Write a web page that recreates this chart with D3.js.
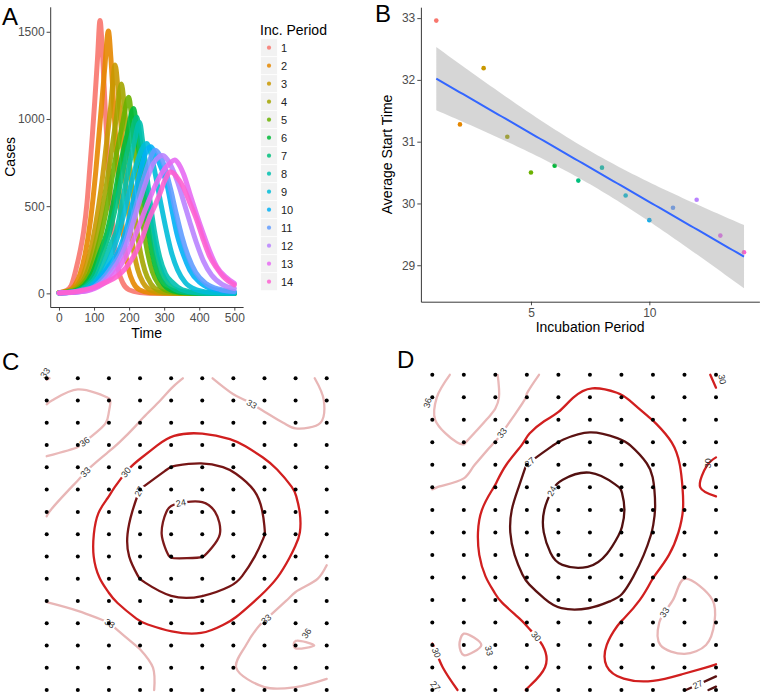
<!DOCTYPE html>
<html>
<head>
<meta charset="utf-8">
<script src="https://cdn.jsdelivr.net/npm/d3@7"></script>
<style>
  body { margin: 0; background: #fff; }
  svg text { font-family: "Liberation Sans", Arial, Helvetica, sans-serif; }
</style>
</head>
<body>
<svg id="fig" width="762" height="697"></svg>
<script>
// ---------------- data ----------------
const incPeriods = [1, 2, 3, 4, 5, 6, 7, 8, 9, 10, 11, 12, 13, 14];
const periodColors = ["#F8766D", "#E58700", "#C99800", "#A3A500", "#6BB100", "#00BA38", "#00BF7D",
                      "#00C0AF", "#00BCD8", "#00B0F6", "#619CFF", "#B983FF", "#E76BF3", "#FD61D1"];

const timeTicks = [0, 100, 200, 300, 400, 500];
const caseTicks = [0, 500, 1000, 1500];

// panel A: cases over time, one list of [time, cases] per incubation period
const caseCurves = [
  [[0,3],[20,15],[35,45],[50,150],[60,240],[70,350],[80,520],[88,720],[95,900],[102,1100],[110,1350],[117,1565],[124,1380],[132,1050],[140,760],[150,470],[160,260],[170,130],[182,60],[200,20],[230,5],[280,0],[500,0]],
  [[0,3],[25,14],[45,45],[60,110],[75,230],[90,420],[105,700],[118,1000],[130,1280],[141,1505],[148,1350],[156,1080],[165,780],[175,500],[186,280],[198,140],[212,60],[230,20],[260,4],[320,0],[500,0]],
  [[0,3],[30,14],[52,45],[70,110],[88,230],[105,400],[120,600],[135,850],[148,1080],[160,1310],[168,1180],[177,960],[187,710],[198,470],[210,280],[224,140],[240,60],[262,18],[295,3],[360,0],[500,0]],
  [[0,3],[35,14],[58,45],[78,110],[97,230],[115,390],[132,580],[148,790],[163,1000],[178,1200],[186,1080],[195,880],[205,660],[217,440],[230,260],[245,130],[262,55],[285,16],[320,3],[380,0],[500,0]],
  [[0,3],[40,14],[65,45],[86,110],[106,230],[125,380],[143,560],[160,760],[180,960],[199,1125],[207,1010],[216,830],[226,620],[238,420],[251,250],[266,125],[284,52],[308,16],[345,3],[400,0],[500,0]],
  [[0,2],[45,14],[72,45],[94,110],[116,230],[136,344],[155,520],[173,720],[193,900],[213,1060],[221,950],[230,780],[241,580],[253,390],[266,230],[281,115],[300,48],[325,15],[365,3],[420,0],[500,0]],
  [[0,2],[48,13],[76,42],[99,100],[121,210],[143,340],[162,500],[181,690],[202,870],[222,1010],[230,910],[240,750],[251,560],[264,380],[278,225],[294,115],[314,48],[340,15],[380,3],[440,0],[500,0]],
  [[0,2],[52,13],[82,42],[108,100],[132,200],[150,290],[164,360],[180,520],[197,700],[214,860],[230,980],[238,880],[248,720],[259,540],[272,360],[287,210],[304,110],[325,60],[352,20],[395,3],[450,0],[500,0]],
  [[0,2],[55,12],[88,40],[115,95],[140,180],[162,290],[182,430],[200,580],[218,720],[235,820],[250,860],[262,800],[275,680],[290,520],[305,370],[320,240],[338,135],[360,62],[390,22],[430,6],[480,1],[500,0]],
  [[0,2],[60,12],[100,50],[140,150],[174,260],[195,390],[212,535],[228,670],[240,764],[252,825],[262,840],[272,810],[285,750],[297,690],[307,631],[322,480],[336,344],[355,220],[373,134],[400,65],[430,29],[465,14],[500,8]],
  [[0,2],[62,11],[105,45],[145,135],[180,250],[202,380],[222,520],[240,650],[256,750],[275,820],[288,790],[302,720],[318,600],[334,460],[350,330],[368,215],[390,120],[420,55],[460,22],[500,10]],
  [[0,2],[62,10],[108,40],[150,120],[193,287],[212,410],[231,535],[250,650],[269,745],[283,780],[295,790],[308,770],[322,720],[338,640],[355,530],[373,410],[392,290],[412,185],[435,105],[465,52],[500,28]],
  [[0,2],[65,10],[112,38],[158,110],[200,250],[225,370],[250,500],[275,620],[300,710],[318,750],[330,765],[342,740],[356,680],[373,573],[392,455],[411,344],[430,240],[450,153],[475,95],[500,57]],
  [[0,2],[40,8],[69,19],[100,35],[130,60],[164,95],[190,145],[212,210],[236,310],[259,439],[275,510],[288,573],[300,640],[307,669],[316,697],[326,690],[335,670],[354,611],[373,520],[393,420],[411,310],[430,210],[450,145],[469,95],[485,68],[500,48]]
];

// panel B: average start time per incubation period
const avgStartTime = [32.96, 31.28, 32.19, 31.08, 30.50, 30.61, 30.37, 30.58, 30.13, 29.73, 29.93, 30.06, 29.48, 29.21];
const startTicks = [29, 30, 31, 32, 33];
const periodTicks = [5, 10];
const tCrit = 2.179; // t(0.975, df = 12)

// panels C and D: values on the 10 x 15 grid of sample points (rows top to bottom)
const levels = [24, 27, 30, 33, 36];
const gridC = [
  [32.8, 35.0, 35.0, 34.5, 33.3, 32.5, 34.0, 34.6, 33.8, 32.5],
  [35.8, 37.0, 36.1, 33.8, 32.6, 31.8, 32.6, 33.6, 34.0, 32.9],
  [37.0, 36.9, 35.9, 32.9, 31.1, 30.9, 31.5, 32.4, 33.4, 32.9],
  [36.6, 36.2, 33.6, 31.3, 29.0, 28.7, 29.5, 31.0, 31.8, 32.2],
  [35.4, 33.9, 31.5, 29.2, 26.9, 26.4, 27.2, 29.3, 31.2, 32.6],
  [34.5, 32.4, 30.4, 26.95, 25.1, 24.9, 26.1, 27.3, 30.1, 32.5],
  [33.1, 31.3, 29.2, 26.2, 23.6, 23.3, 25.0, 27.1, 29.6, 32.1],
  [32.6, 31.47, 28.53, 25.83, 23.2, 23.0, 24.77, 26.95, 29.56, 32.2],
  [32.0, 30.9, 29.0, 25.6, 23.9, 23.95, 25.2, 27.7, 30.44, 32.6],
  [32.4, 31.0, 29.5, 26.95, 25.6, 25.8, 26.4, 28.9, 31.5, 33.6],
  [32.95, 32.6, 30.3, 28.5, 27.1, 27.2, 28.3, 30.75, 34.0, 34.5],
  [33.9, 33.5, 33.05, 30.1, 29.3, 29.0, 30.3, 33.3, 35.4, 35.3],
  [34.5, 34.3, 33.6, 32.9, 31.0, 30.8, 32.6, 33.6, 36.15, 35.9],
  [35.0, 34.8, 34.2, 33.5, 32.3, 32.0, 32.9, 34.0, 35.0, 34.0],
  [35.2, 35.0, 34.5, 33.5, 32.4, 32.2, 32.5, 32.85, 32.7, 32.0]
];
const gridD = [
  [35.0, 36.8, 36.2, 33.5, 32.2, 30.8, 31.0, 31.5, 30.9, 29.8],
  [35.8, 37.2, 36.4, 32.9, 30.8, 29.0, 29.8, 31.2, 31.6, 30.15],
  [35.9, 37.0, 35.6, 30.4, 29.7, 27.6, 28.4, 30.05, 31.4, 31.0],
  [35.3, 36.2, 32.9, 29.8, 26.9, 26.0, 26.8, 27.75, 31.1, 30.3],
  [34.6, 33.9, 31.3, 26.9, 25.0, 24.1, 25.2, 27.2, 30.4, 29.85],
  [33.1, 32.4, 29.86, 26.0, 23.6, 23.0, 24.05, 26.85, 30.2, 29.8],
  [32.0, 31.4, 28.7, 25.2, 22.8, 22.2, 23.55, 26.7, 30.05, 30.3],
  [32.0, 31.2, 28.4, 25.25, 22.7, 22.5, 24.06, 27.1, 30.6, 31.6],
  [32.3, 31.2, 28.6, 25.85, 23.4, 23.2, 24.6, 27.9, 31.7, 32.3],
  [32.5, 31.0, 29.5, 26.7, 24.6, 24.4, 25.2, 29.97, 32.95, 32.9],
  [32.4, 31.4, 30.2, 28.0, 26.3, 26.2, 27.3, 31.6, 33.8, 32.9],
  [31.5, 32.5, 31.0, 29.91, 27.9, 28.0, 30.13, 32.5, 35.0, 32.9],
  [29.9, 33.5, 32.6, 30.4, 29.7, 29.6, 30.47, 32.6, 34.3, 32.4],
  [28.8, 32.4, 32.2, 30.7, 29.73, 29.7, 30.4, 31.3, 31.0, 29.6],
  [26.0, 31.0, 31.3, 29.95, 29.0, 28.7, 29.7, 29.4, 27.2, 23.0]
];
// contour label anchors in grid units; with an angle the label is set free, otherwise snapped onto its line
const labelsC = [
  {level: 33, at: [-0.05, -0.25], angle: -55},
  {level: 36, at: [1.1, 2.65]},
  {level: 33, at: [1.23, 4.18]},
  {level: 30, at: [2.36, 4.03]},
  {level: 27, at: [2.84, 5.0]},
  {level: 24, at: [4.3, 5.5]},
  {level: 33, at: [6.6, 1.12]},
  {level: 33, at: [2.04, 11.0]},
  {level: 33, at: [6.97, 10.69]},
  {level: 36, at: [8.35, 11.45], angle: -55}
];
const labelsD = [
  {level: 36, at: [-0.15, 1.25], angle: -75},
  {level: 33, at: [2.09, 2.44]},
  {level: 27, at: [3.04, 3.8]},
  {level: 24, at: [3.52, 4.96]},
  {level: 30, at: [9.2, 0.2], angle: 80},
  {level: 30, at: [8.75, 3.93], angle: -90},
  {level: 30, at: [3.36, 11.55]},
  {level: 33, at: [1.8, 12.25], angle: 75},
  {level: 30, at: [0.2, 12.3]},
  {level: 27, at: [0.2, 13.7]},
  {level: 33, at: [7.22, 10.43]},
  {level: 27, at: [8.38, 13.63]}
];

// ---------------- helpers ----------------
const svg = d3.select("#fig");

function styleAxis(g) {
  g.select("path.domain").attr("stroke", "#222").attr("stroke-width", 0.9);
  g.selectAll(".tick line").attr("stroke", "#333").attr("stroke-width", 0.9);
  g.selectAll(".tick text").attr("fill", "#4d4d4d").attr("font-size", 12);
}

function expand(ext, f) {
  const pad = (ext[1] - ext[0]) * f;
  return [ext[0] - pad, ext[1] + pad];
}

function panelLetter(txt, x, y) {
  svg.append("text").attr("x", x).attr("y", y).attr("font-size", 24).attr("fill", "#000").text(txt);
}

const plainNum = d => String(d);

// ---------------- panel A ----------------
const allCases = caseCurves.flat();
const xA = d3.scaleLinear().domain(expand(d3.extent(allCases, d => d[0]), 0.05)).range([50.2, 243.1]);
const yA = d3.scaleLinear().domain(expand([0, d3.max(allCases, d => d[1])], 0.05)).range([307, 6.8]);

const gA = svg.append("g");
const lineA = d3.line().x(d => xA(d[0])).y(d => yA(d[1])).curve(d3.curveMonotoneX);
caseCurves.forEach((curve, k) => {
  gA.append("path")
    .attr("d", lineA(curve))
    .attr("fill", "none")
    .attr("stroke", periodColors[k])
    .attr("stroke-width", 5)
    .attr("stroke-opacity", 0.9)
    .attr("stroke-linecap", "round")
    .attr("stroke-linejoin", "round");
});

gA.append("g").attr("transform", `translate(0,${yA.range()[0]})`)
  .call(d3.axisBottom(xA).tickValues(timeTicks).tickFormat(plainNum).tickSize(3.6).tickSizeOuter(0).tickPadding(3))
  .call(styleAxis);
gA.append("g").attr("transform", `translate(${xA.range()[0]},0)`)
  .call(d3.axisLeft(yA).tickValues(caseTicks).tickFormat(plainNum).tickSize(3.6).tickSizeOuter(0).tickPadding(2))
  .call(styleAxis);

gA.append("text").attr("x", (xA.range()[0] + xA.range()[1]) / 2).attr("y", 338)
  .attr("text-anchor", "middle").attr("font-size", 14).text("Time");
gA.append("text").attr("transform", `translate(15,${(yA.range()[0] + yA.range()[1]) / 2}) rotate(-90)`)
  .attr("text-anchor", "middle").attr("font-size", 14).text("Cases");

// legend
const leg = svg.append("g");
leg.append("text").attr("x", 260).attr("y", 35).attr("font-size", 14).text("Inc. Period");
incPeriods.forEach((p, k) => {
  const cy = 47.7 + 18 * k;
  leg.append("rect").attr("x", 260.5).attr("y", cy - 9).attr("width", 17).attr("height", 18)
    .attr("fill", "#f2f2f2").attr("stroke", "#fff").attr("stroke-width", 0.8);
  leg.append("circle").attr("cx", 269).attr("cy", cy).attr("r", 2.1).attr("fill", periodColors[k]).attr("fill-opacity", 0.85);
  leg.append("text").attr("x", 281).attr("y", cy + 4).attr("font-size", 11).attr("fill", "#222").text(p);
});

panelLetter("A", 2, 25);

// ---------------- panel B ----------------
const n = incPeriods.length;
const xbar = d3.mean(incPeriods), ybar = d3.mean(avgStartTime);
const sxx = d3.sum(incPeriods, x => (x - xbar) ** 2);
const sxy = d3.sum(incPeriods, (x, k) => (x - xbar) * (avgStartTime[k] - ybar));
const slope = sxy / sxx, icpt = ybar - slope * xbar;
const sse = d3.sum(incPeriods, (x, k) => (avgStartTime[k] - (icpt + slope * x)) ** 2);
const sRes = Math.sqrt(sse / (n - 2));
const fitX = d3.range(0, 81).map(k => 1 + (13 * k) / 80);
const fit = fitX.map(x => {
  const yh = icpt + slope * x;
  const se = sRes * Math.sqrt(1 / n + (x - xbar) ** 2 / sxx);
  return {x, y: yh, lo: yh - tCrit * se, hi: yh + tCrit * se};
});

const xB = d3.scaleLinear().domain(expand(d3.extent(incPeriods), 0.05)).range([420.9, 759.4]);
const yExt = [Math.min(d3.min(avgStartTime), d3.min(fit, d => d.lo)), Math.max(d3.max(avgStartTime), d3.max(fit, d => d.hi))];
const yB = d3.scaleLinear().domain(expand(yExt, 0.05)).range([301.7, 7.2]);

const gB = svg.append("g");
gB.selectAll("circle.pt").data(avgStartTime).join("circle")
  .attr("cx", (d, k) => xB(incPeriods[k])).attr("cy", d => yB(d)).attr("r", 2.3)
  .attr("fill", (d, k) => periodColors[k]);
gB.append("path")
  .attr("d", d3.area().x(d => xB(d.x)).y0(d => yB(d.lo)).y1(d => yB(d.hi))(fit))
  .attr("fill", "#999").attr("fill-opacity", 0.4);
gB.append("path")
  .attr("d", d3.line().x(d => xB(d.x)).y(d => yB(d.y))(fit))
  .attr("fill", "none").attr("stroke", "#3366FF").attr("stroke-width", 2);

gB.append("g").attr("transform", `translate(0,${yB.range()[0]})`)
  .call(d3.axisBottom(xB).tickValues(periodTicks).tickFormat(plainNum).tickSize(3.6).tickSizeOuter(0).tickPadding(3))
  .call(styleAxis);
gB.append("g").attr("transform", `translate(${xB.range()[0]},0)`)
  .call(d3.axisLeft(yB).tickValues(startTicks).tickFormat(plainNum).tickSize(3.6).tickSizeOuter(0).tickPadding(2))
  .call(styleAxis);
gB.append("text").attr("x", (xB.range()[0] + xB.range()[1]) / 2).attr("y", 332)
  .attr("text-anchor", "middle").attr("font-size", 14).text("Incubation Period");
gB.append("text").attr("transform", `translate(392,${(yB.range()[0] + yB.range()[1]) / 2}) rotate(-90)`)
  .attr("text-anchor", "middle").attr("font-size", 14).text("Average Start Time");

panelLetter("B", 375, 22);

// ---------------- panels C and D ----------------
// split d3 contour rings at the grid border so only the real iso-lines remain
function isoPieces(coords, nx, ny) {
  const eps = 1e-6;
  const onEdge = p => p[0] < eps || p[0] > nx - eps || p[1] < eps || p[1] > ny - eps;
  const pieces = [];
  coords.forEach(poly => poly.forEach(ring => {
    let pts = ring.slice();
    const a = pts[0], b = pts[pts.length - 1];
    if (a[0] === b[0] && a[1] === b[1]) pts = pts.slice(0, -1);
    const m = pts.length;
    const first = pts.findIndex(onEdge);
    if (first < 0) { pieces.push({pts, closed: true}); return; }
    let cur = [];
    for (let k = 1; k <= m; k++) {
      const p = pts[(first + k) % m];
      if (onEdge(p)) {
        if (cur.length > 1) pieces.push({pts: cur, closed: false});
        cur = [];
      } else cur.push(p);
    }
  }));
  return pieces;
}

function contourPanel(grid, box, colors, labels) {
  const ny = grid.length, nx = grid[0].length;
  const gx = d3.scaleLinear().domain([0, nx - 1]).range([box.x0, box.x1]);
  const gy = d3.scaleLinear().domain([0, ny - 1]).range([box.y0, box.y1]);
  const g = svg.append("g");
  // small loops keep catmull-rom so they do not shrink; longer lines get a basis spline for smoothness
  const mk = curve => d3.line().x(p => gx(p[0] - 0.5)).y(p => gy(p[1] - 0.5)).curve(curve);
  const openSmooth = mk(d3.curveBasis), closedSmooth = mk(d3.curveBasisClosed);
  const openTight = mk(d3.curveCatmullRom.alpha(0.5)), closedTight = mk(d3.curveCatmullRomClosed.alpha(0.5));
  const nodes = {};

  d3.contours().size([nx, ny]).thresholds(levels)(grid.flat()).forEach(c => {
    nodes[c.value] = [];
    isoPieces(c.coordinates, nx, ny).forEach(pc => {
      const small = pc.pts.length < 12;
      const gen = pc.closed ? (small ? closedTight : closedSmooth) : (small ? openTight : openSmooth);
      const path = g.append("path")
        .attr("d", gen(pc.pts))
        .attr("fill", "none")
        .attr("stroke", colors[c.value])
        .attr("stroke-width", 2.3)
        .attr("stroke-linecap", "round");
      nodes[c.value].push(path.node());
    });
  });

  labels.forEach(lb => {
    let x = gx(lb.at[0]), y = gy(lb.at[1]), ang = lb.angle;
    const snapped = ang === undefined;
    if (snapped) {
      let best = null;
      (nodes[lb.level] || []).forEach(node => {
        const len = node.getTotalLength();
        for (let s = 0; s <= len; s += 1) {
          const p = node.getPointAtLength(s);
          const dd = (p.x - x) ** 2 + (p.y - y) ** 2;
          if (!best || dd < best.dd) best = {dd, node, s, len};
        }
      });
      if (!best) return;
      const p = best.node.getPointAtLength(best.s);
      const a = best.node.getPointAtLength(Math.max(0, best.s - 4));
      const b = best.node.getPointAtLength(Math.min(best.len, best.s + 4));
      x = p.x; y = p.y;
      ang = Math.atan2(b.y - a.y, b.x - a.x) * 180 / Math.PI;
      if (ang > 90) ang -= 180;
      if (ang < -90) ang += 180;
    }
    const t = g.append("g").attr("transform", `translate(${x},${y}) rotate(${ang})`);
    if (snapped) t.append("rect").attr("x", -6.5).attr("y", -4.5).attr("width", 13).attr("height", 9).attr("fill", "#fff");
    t.append("text").attr("text-anchor", "middle").attr("dy", "0.35em")
      .attr("font-size", 9).attr("fill", "#333").text(lb.level);
  });

  const cells = d3.cross(d3.range(ny), d3.range(nx));
  g.selectAll("circle.dot").data(cells).join("circle")
    .attr("cx", d => gx(d[1])).attr("cy", d => gy(d[0])).attr("r", 2).attr("fill", "#000");
}

contourPanel(gridC, {x0: 46.7, x1: 326.7, y0: 378.3, y1: 690},
  {24: "#7d1a1a", 27: "#761515", 30: "#d11f1f", 33: "#e8b6b6", 36: "#eab9b9"}, labelsC);
contourPanel(gridD, {x0: 432.3, x1: 716, y0: 374.8, y1: 690},
  {24: "#521010", 27: "#5c1212", 30: "#d11f1f", 33: "#e8b6b6", 36: "#eab9b9"}, labelsD);

panelLetter("C", 2, 370);
panelLetter("D", 397, 368);
</script>
</body>
</html>
